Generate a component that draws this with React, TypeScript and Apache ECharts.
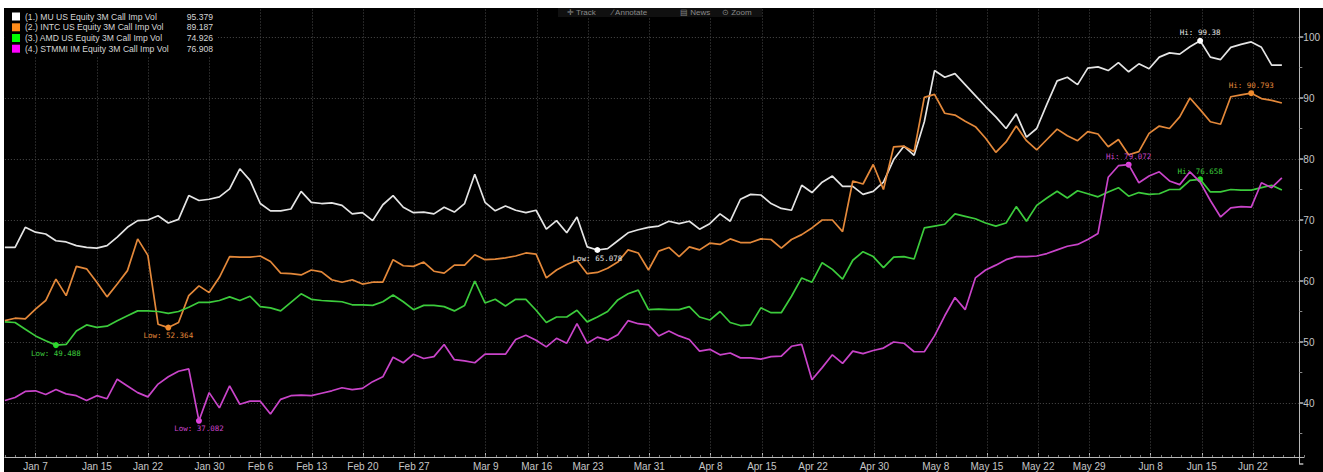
import React, { useEffect, useRef } from "react";
import * as echarts from "echarts";

// ---------- data ----------
const seriesNames = [
  "(1.) MU US Equity 3M Call Imp Vol",
  "(2.) INTC US Equity 3M Call Imp Vol",
  "(3.) AMD US Equity 3M Call Imp Vol",
  "(4.) STMMI IM Equity 3M Call Imp Vol",
];

// daily values, weekdays from Jan 2 to Jun 25
const muVol = [
  65.5, 65.5, 68.8, 68.0, 67.7, 66.6, 66.4, 65.8, 65.5, 65.4,
  65.8, 67.2, 68.8, 69.9, 70.0, 70.7, 69.5, 70.1, 74.0, 73.2,
  73.4, 73.8, 75.1, 78.4, 76.5, 72.7, 71.5, 71.5, 71.8, 74.7,
  72.9, 72.7, 72.8, 72.4, 71.0, 71.2, 69.9, 72.5, 74.0, 72.1,
  71.2, 71.3, 71.0, 72.1, 71.3, 72.7, 77.5, 72.9, 71.5, 72.3,
  71.6, 71.2, 71.6, 68.5, 69.9, 67.9, 70.5, 65.6, 65.078, 65.3,
  66.6, 67.9, 68.4, 68.8, 69.0, 69.8, 69.4, 69.8, 68.5, 69.4,
  71.0, 69.8, 73.4, 74.2, 74.1, 72.7, 71.9, 71.6, 75.7, 74.5,
  76.2, 77.2, 75.5, 75.5, 74.2, 74.7, 76.2, 79.9, 82.1, 80.6,
  86.1, 94.5, 93.4, 94.0, 92.2, 90.4, 88.6, 86.9, 85.0, 87.4,
  83.6, 85.0, 89.0, 92.8, 93.4, 92.2, 94.9, 95.1, 94.5, 95.8,
  94.3, 95.6, 94.8, 96.7, 97.4, 97.2, 98.4, 99.38, 96.7, 96.3,
  98.3, 98.8, 99.2, 98.3, 95.4, 95.379,
];
const intcVol = [
  53.5, 53.9, 53.8, 55.4, 56.8, 60.3, 57.6, 62.4, 62.0, 59.8,
  57.4, 59.5, 61.7, 66.9, 64.2, 52.9, 52.364, 53.2, 57.6, 59.2,
  58.1, 60.6, 64.0, 63.9, 63.9, 64.1, 63.2, 61.3, 61.2, 61.0,
  61.8, 61.5, 60.2, 59.8, 60.2, 59.5, 59.8, 59.8, 63.5, 62.5,
  62.4, 63.1, 61.6, 61.3, 62.6, 62.6, 64.3, 63.5, 63.6, 63.8,
  64.1, 64.6, 64.4, 60.5, 61.8, 62.7, 63.4, 61.2, 61.4, 62.1,
  63.1, 65.1, 64.6, 61.8, 64.9, 65.5, 64.0, 65.6, 65.1, 66.2,
  66.0, 66.9, 66.3, 66.3, 66.9, 66.8, 65.4, 66.8, 67.6, 68.7,
  70.0, 70.0, 68.1, 76.4, 75.9, 79.1, 75.0, 82.0, 82.1, 81.2,
  90.1, 90.6, 87.5, 87.2, 86.2, 85.3, 83.4, 81.1, 82.8, 85.4,
  83.0, 81.5, 83.2, 84.9, 83.8, 83.0, 84.5, 84.1, 82.0, 83.2,
  80.7, 81.2, 84.2, 85.4, 85.0, 86.9, 90.0, 88.1, 86.1, 85.7,
  90.2, 90.5, 90.793, 89.9, 89.6, 89.187,
];
const amdVol = [
  53.3, 53.2, 52.1, 51.0, 50.2, 49.488, 49.6, 51.8, 52.8, 52.4,
  52.6, 53.5, 54.3, 55.1, 55.1, 55.0, 54.7, 55.0, 55.7, 56.5,
  56.5, 56.8, 57.4, 56.8, 57.5, 55.8, 55.6, 55.1, 56.5, 57.9,
  57.0, 56.8, 56.7, 56.6, 56.1, 56.1, 56.0, 56.6, 57.7, 56.6,
  55.3, 56.0, 56.0, 55.8, 55.1, 56.0, 60.0, 56.4, 57.0, 55.9,
  57.0, 57.0, 55.2, 53.2, 54.1, 54.1, 55.2, 53.3, 54.1, 55.0,
  56.9, 57.9, 58.5, 55.3, 55.4, 55.3, 55.3, 55.8, 54.1, 53.6,
  55.0, 53.2, 52.7, 52.8, 55.6, 54.8, 54.8, 57.5, 60.5, 59.8,
  63.0, 61.9, 60.3, 63.4, 64.8, 64.0, 62.2, 63.9, 64.0, 63.6,
  68.7, 69.0, 69.3, 71.0, 70.6, 70.2, 69.5, 69.0, 69.5, 72.2,
  69.8, 72.4, 73.6, 74.7, 73.6, 74.8, 74.3, 73.8, 74.6, 75.3,
  73.9, 74.5, 74.2, 74.3, 75.0, 75.0, 76.5, 76.658, 74.6, 74.6,
  75.0, 74.9, 74.9, 75.3, 75.7, 74.926,
];
const stmVol = [
  40.4, 40.9, 41.9, 42.0, 41.4, 42.2, 41.5, 41.2, 40.4, 41.2,
  40.7, 43.9, 42.8, 41.7, 41.0, 43.1, 44.3, 45.2, 45.6, 37.082,
  41.7, 39.2, 42.8, 39.8, 40.3, 40.3, 38.2, 40.6, 41.2, 41.3,
  41.2, 41.6, 42.0, 42.5, 42.2, 42.4, 43.5, 44.3, 47.5, 46.6,
  48.0, 47.3, 47.6, 49.6, 47.1, 46.9, 46.6, 48.0, 48.0, 48.0,
  50.4, 51.1, 50.3, 49.2, 50.6, 49.8, 53.0, 49.8, 50.8, 50.3,
  51.2, 53.5, 53.0, 52.8, 51.0, 51.8, 51.0, 50.4, 48.5, 48.8,
  47.9, 48.2, 47.4, 47.4, 47.2, 47.6, 47.7, 49.3, 49.6, 43.8,
  45.8, 47.9, 46.5, 48.5, 48.1, 48.6, 49.0, 50.0, 49.8, 48.4,
  48.4, 51.0, 54.3, 57.3, 55.3, 60.5, 61.8, 62.6, 63.5, 64.0,
  64.0, 64.1, 64.5, 65.1, 65.7, 66.0, 66.8, 67.8, 77.0, 78.9,
  79.072, 76.1, 77.2, 77.9, 76.4, 75.8, 77.9, 76.2, 73.2, 70.5,
  72.0, 72.2, 72.1, 76.1, 75.3, 76.908,
];

const xTickLabels = [
  "Jan 7", "Jan 15", "Jan 22", "Jan 30", "Feb 6", "Feb 13", "Feb 20", "Feb 27",
  "Mar 9", "Mar 16", "Mar 23", "Mar 31", "Apr 8", "Apr 15", "Apr 22", "Apr 30",
  "May 8", "May 15", "May 22", "May 29", "Jun 8", "Jun 15", "Jun 22",
];
const yTickLabels = [40, 50, 60, 70, 80, 90, 100];

const toolbarItems = ["\u271B Track", "\u2215 Annotate", "\u25A4 News", "\u2299 Zoom"];

// ---------- calendar (weekdays, 2020-01-02 .. 2020-06-29) ----------
const MONTHS = ["Jan", "Feb", "Mar", "Apr", "May", "Jun", "Jul", "Aug", "Sep", "Oct", "Nov", "Dec"];
function buildWeekdays(start: number, end: number): string[] {
  const out: string[] = [];
  const d = new Date(start);
  while (d.getTime() <= end) {
    const wd = d.getUTCDay();
    if (wd !== 0 && wd !== 6) out.push(`${MONTHS[d.getUTCMonth()]} ${d.getUTCDate()}`);
    d.setUTCDate(d.getUTCDate() + 1);
  }
  return out;
}
const dates = buildWeekdays(Date.UTC(2020, 0, 2), Date.UTC(2020, 5, 29));

// ---------- style ----------
const SANS = "'Liberation Sans', Arial, sans-serif";
const MONO = "'DejaVu Sans Mono', 'Liberation Mono', monospace";
const lineColors = ["#e4e4e4", "#e3883a", "#3ccb3c", "#c944c9"];
const markColors = ["#ffffff", "#f08a2c", "#22e022", "#e040e0"];
const swatchColors = ["#ffffff", "#ff8c1a", "#00ff00", "#ff00ff"];
const GRID_LEFT = 4.85;
const GRID_W = 127 * 10.23;
const GRID_TOP = 6.5;
const GRID_H = 457.5; // value 105 .. 30
const AXIS_H = 450.5; // x axis line at y = 457

const labelSet = new Set(xTickLabels);
const isLabel = (_i: number, v: string) => labelSet.has(v);

export default function App() {
  const ref = useRef<HTMLDivElement>(null);

  useEffect(() => {
    if (!ref.current) return;
    const chart = echarts.init(ref.current, undefined, { renderer: "svg" });
    const all = [muVol, intcVol, amdVol, stmVol];

    const series = all.map((vals, k) => ({
      name: seriesNames[k],
      type: "line",
      xAxisIndex: 0,
      yAxisIndex: 0,
      data: vals,
      showSymbol: false,
      symbol: "none",
      lineStyle: { color: lineColors[k], width: 1.7 },
      itemStyle: { color: lineColors[k] },
      z: 3 + k,
      markPoint: {
        symbol: "circle",
        symbolSize: 6,
        itemStyle: { color: markColors[k] },
        label: {
          show: true,
          color: lineColors[k],
          fontSize: 7.5,
          fontFamily: MONO,
        },
        data: [
          {
            type: "max",
            name: "Hi",
            label: { position: "top", distance: 1, formatter: (p: any) => `Hi: ${p.value}` },
          },
          {
            type: "min",
            name: "Low",
            label: { position: "bottom", distance: 1, formatter: (p: any) => `Low: ${p.value}` },
          },
        ],
      },
    }));

    const rowY = [16.5, 27.3, 38, 48.7];
    const legendEls: any[] = [
      { type: "rect", shape: { x: 5, y: 9, width: 213, height: 47 }, style: { fill: "#000" }, z: 90 },
    ];
    seriesNames.forEach((name, k) => {
      const last = all[k][all[k].length - 1];
      legendEls.push(
        {
          type: "rect",
          shape: { x: 12, y: rowY[k] - 4, width: 8, height: 8 },
          style: { fill: swatchColors[k] },
          z: 91,
        },
        {
          type: "text",
          x: 25,
          y: rowY[k],
          style: {
            text: name,
            fill: "#d4d4d4",
            font: `8.6px ${SANS}`,
            textAlign: "left",
            textVerticalAlign: "middle",
          },
          z: 91,
        },
        {
          type: "text",
          x: 213,
          y: rowY[k],
          style: {
            text: last.toFixed(3),
            fill: "#d4d4d4",
            font: `8.6px ${SANS}`,
            textAlign: "right",
            textVerticalAlign: "middle",
          },
          z: 91,
        }
      );
    });

    const toolbarX = [567, 612, 680, 722];
    const toolbarEls: any[] = [
      { type: "rect", shape: { x: 558, y: 8, width: 204, height: 9 }, style: { fill: "#101010" }, z: 90 },
      ...toolbarItems.map((t, i) => ({
        type: "text",
        x: toolbarX[i],
        y: 12.5,
        style: {
          text: t,
          fill: "#8a8a8a",
          font: `8px ${SANS}`,
          textAlign: "left",
          textVerticalAlign: "middle",
        },
        z: 91,
      })),
    ];

    const option: any = {
      animation: false,
      backgroundColor: "#000",
      grid: [
        { left: GRID_LEFT, top: GRID_TOP, width: GRID_W, height: GRID_H },
        { left: GRID_LEFT, top: GRID_TOP, width: GRID_W, height: AXIS_H },
      ],
      xAxis: [
        { type: "category", gridIndex: 0, data: dates, boundaryGap: false, show: false },
        {
          type: "category",
          gridIndex: 1,
          data: dates,
          boundaryGap: false,
          position: "bottom",
          axisLine: { show: true, onZero: false, lineStyle: { color: "#b8b8b8", width: 1 } },
          axisTick: { show: true, inside: true, length: 4, interval: isLabel, lineStyle: { color: "#b8b8b8" } },
          axisLabel: {
            show: true,
            interval: isLabel,
            color: "#c6c6c6",
            fontSize: 10,
            fontFamily: SANS,
            margin: 4,
          },
          splitLine: {
            show: true,
            interval: isLabel,
            lineStyle: { color: "#4a4a4a", width: 1, type: [1, 2] },
          },
        },
        {
          type: "category",
          gridIndex: 1,
          data: dates,
          boundaryGap: false,
          position: "bottom",
          axisLine: { show: false, onZero: false },
          axisTick: { show: true, inside: true, length: 2, interval: 0, lineStyle: { color: "#7a7a7a" } },
          axisLabel: { show: false },
          splitLine: { show: false },
        },
      ],
      yAxis: [
        {
          type: "value",
          gridIndex: 0,
          position: "right",
          offset: -3,
          min: 30,
          max: 105,
          interval: 10,
          axisLine: { show: true, lineStyle: { color: "#b8b8b8", width: 1 } },
          axisTick: { show: true, length: 4, lineStyle: { color: "#b8b8b8", width: 1.5 } },
          minorTick: { show: true, splitNumber: 2, length: 3, lineStyle: { color: "#8a8a8a" } },
          axisLabel: {
            color: "#c6c6c6",
            fontSize: 10,
            fontFamily: SANS,
            margin: 4,
            formatter: (v: number) => (yTickLabels.includes(v) ? String(v) : ""),
          },
          splitLine: {
            show: true,
            showMinLine: false,
            showMaxLine: false,
            lineStyle: { color: "#4a4a4a", width: 1, type: [1, 2] },
          },
        },
        { type: "value", gridIndex: 1, show: false, min: 0, max: 1 },
      ],
      graphic: [
        ...legendEls,
        ...toolbarEls,
        { type: "rect", shape: { x: 0, y: 0, width: 1323, height: 8 }, style: { fill: "#ffffff" }, z: 100 },
        { type: "rect", shape: { x: 0, y: 0, width: 4, height: 472 }, style: { fill: "#ffffff" }, z: 100 },
      ],
      series,
    };

    chart.setOption(option);
    return () => chart.dispose();
  }, []);

  return (
    <div
      ref={ref}
      style={{ position: "absolute", left: 0, top: 0, width: 1323, height: 472 }}
    />
  );
}
